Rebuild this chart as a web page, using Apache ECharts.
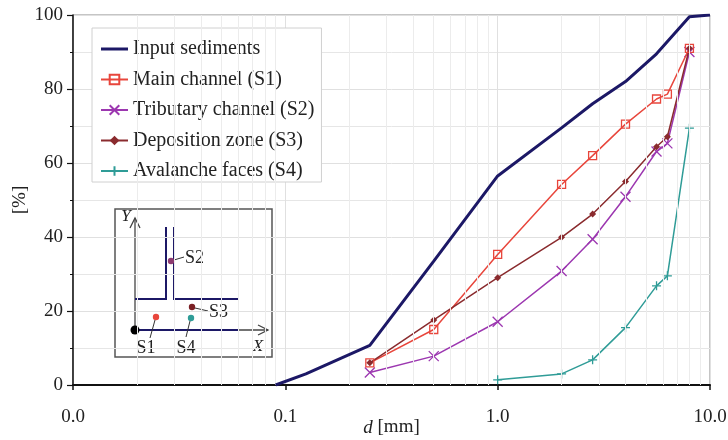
<!DOCTYPE html>
<html><head><meta charset="utf-8">
<script src="https://cdn.jsdelivr.net/npm/echarts@6/dist/echarts.min.js"></script>
<style>html,body{margin:0;padding:0;background:#fff}#c{width:728px;height:440px}</style>
</head><body><div id="c"></div>
<script>
// ---- data ----
const seriesNames = ['Input sediments','Main channel (S1)','Tributary channel (S2)','Deposition zone (S3)','Avalanche faces (S4)'];
const inputD = [0.09, 0.125, 0.25, 0.5, 1, 2, 2.8, 4, 5.6, 8, 10];
const inputP = [0, 3, 10.7, 33.5, 56.5, 69.5, 76, 82, 89.5, 99.5, 100];
const sieveD = [0.25, 0.5, 1, 2, 2.8, 4, 5.6, 6.3, 8];
const mainP = [6, 15, 35.3, 54.2, 62, 70.5, 77.3, 78.6, 91];
const tribP = [3.4, 7.8, 17.1, 30.8, 39.4, 50.9, 63.1, 65.3, 90];
const depoP = [6, 17.6, 29, 39.9, 46.2, 55, 64.4, 67.1, 91];
const avalD = [1, 2, 2.8, 4, 5.6, 6.3, 8];
const avalP = [1.4, 3, 6.8, 15.5, 26.8, 29.5, 69.4];
const xTicks = [0.01, 0.1, 1, 10];
const xMinor = [0.02,0.03,0.04,0.05,0.06,0.07,0.08,0.09,0.2,0.3,0.4,0.5,0.6,0.7,0.8,0.9,2,3,4,5,6,7,8,9];

const zip = (a, b) => a.map((v, i) => [v, b[i]]);
const FONT = 'Liberation Serif';
const C = {navy:'#1c1866', red:'#e8463c', purple:'#9c37b0', maroon:'#8a2b2e', teal:'#2f9c97'};
const grid = {left:73, right:18, top:15, bottom:55};

const chart = echarts.init(document.getElementById('c'), null, {renderer:'canvas'});
const legendData = seriesNames.map((n, i) => i === 0 ? {name:n, icon:'path://M0,0L27,0L27,3L0,3Z'} : {name:n});
const option = {
  animation:false,
  textStyle:{fontFamily:FONT},
  grid:{left:grid.left, right:grid.right, top:grid.top, bottom:grid.bottom, containLabel:false, outerBoundsMode:'none',
        show:true, borderColor:'#8a8a8a', borderWidth:1},
  legend:{
    data:legendData, orient:'vertical', left:92, top:28,
    backgroundColor:'#fff', borderColor:'#d0d0d0', borderWidth:1,
    padding:[11,7,1,8], itemWidth:27, itemHeight:12, itemGap:10.5,
    textStyle:{fontFamily:FONT, fontSize:20, color:'#222', lineHeight:20}
  },
  xAxis:{
    type:'log', logBase:10, min:0.01, max:10,
    name:'{i|d} [mm]', nameLocation:'middle', nameGap:33, nameMoveOverlap:false,
    nameTextStyle:{fontFamily:FONT, fontSize:19, color:'#222', rich:{i:{fontStyle:'italic', fontFamily:FONT, fontSize:19, color:'#222'}}},
    axisLine:{show:true, lineStyle:{color:'#111', width:2}},
    axisTick:{show:true, length:5, lineStyle:{color:'#111', width:1.5}},
    axisLabel:{fontFamily:FONT, fontSize:19, color:'#222', margin:23, formatter:v => xTicks.some(t => Math.abs(t - v) < 1e-9) ? v.toFixed(1) : ''},
    splitLine:{show:true, lineStyle:{color:'#e0e0e0', width:1}}
  },
  yAxis:{
    type:'value', min:0, max:100, interval:20,
    name:'[%]', nameLocation:'middle', nameGap:43, nameRotate:90, nameMoveOverlap:false,
    nameTextStyle:{fontFamily:FONT, fontSize:19, color:'#222'},
    axisLine:{show:true, lineStyle:{color:'#111', width:1.5}},
    axisTick:{show:true, length:6, lineStyle:{color:'#111', width:1.2}},
    minorTick:{show:true, splitNumber:2, length:3, lineStyle:{color:'#111', width:1}},
    minorSplitLine:{show:true, lineStyle:{color:'#e6e6e6', width:1}},
    axisLabel:{fontFamily:FONT, fontSize:19, color:'#222', margin:10},
    splitLine:{show:true, lineStyle:{color:'#e0e0e0', width:1}}
  },
  series:[
    {name:'_minor', type:'line', data:[], silent:true, z:1,
     markLine:{silent:true, symbol:'none', label:{show:false}, animation:false,
       lineStyle:{color:'#ececec', width:1, type:'solid'},
       data:xMinor.map(v => ({xAxis:v}))}},
    {name:seriesNames[0], type:'line', data:zip(inputD, inputP), symbol:'none',
     lineStyle:{color:C.navy, width:3}, itemStyle:{color:C.navy}, z:5},
    {name:seriesNames[1], type:'line', data:zip(sieveD, mainP), symbol:'rect', symbolSize:8,
     lineStyle:{color:C.red, width:1.5}, itemStyle:{color:'rgba(0,0,0,0)', borderColor:C.red, borderWidth:1.3}, z:4},
    {name:seriesNames[2], type:'line', data:zip(sieveD, tribP), symbol:'path://M0,0L10,10M10,0L0,10', symbolSize:10,
     lineStyle:{color:C.purple, width:1.5}, itemStyle:{color:C.purple, borderColor:C.purple, borderWidth:1.3}, z:3},
    {name:seriesNames[3], type:'line', data:zip(sieveD, depoP), symbol:'diamond', symbolSize:7,
     lineStyle:{color:C.maroon, width:1.5}, itemStyle:{color:C.maroon, borderColor:C.maroon, borderWidth:0}, z:4},
    {name:seriesNames[4], type:'line', data:zip(avalD, avalP), symbol:'path://M5,0L5,10M0,5L10,5', symbolSize:9,
     lineStyle:{color:C.teal, width:1.5}, itemStyle:{color:C.teal, borderColor:C.teal, borderWidth:1.3}, z:3}
  ],
  graphic:[{
    type:'group', left:0, top:0, z:100, bounding:'raw',
    children:[
      {type:'rect', shape:{x:115, y:209, width:157, height:148}, style:{fill:'#fff', stroke:'#555', lineWidth:1.5}},
      {type:'polyline', shape:{points:[[135,330],[135,218]]}, style:{stroke:'#444', lineWidth:1.3, fill:null}},
      {type:'polyline', shape:{points:[[130,228],[135,218],[140,228]]}, style:{stroke:'#444', lineWidth:1.3, fill:null}},
      {type:'polyline', shape:{points:[[135,330],[268,330]]}, style:{stroke:'#444', lineWidth:1.3, fill:null}},
      {type:'polyline', shape:{points:[[258,325],[268,330],[258,335]]}, style:{stroke:'#444', lineWidth:1.3, fill:null}},
      {type:'polyline', shape:{points:[[135,330],[238,330]]}, style:{stroke:C.navy, lineWidth:2, fill:null}},
      {type:'polyline', shape:{points:[[135,299],[166,299],[166,227]]}, style:{stroke:C.navy, lineWidth:2, fill:null}},
      {type:'polyline', shape:{points:[[174,227],[174,299],[238,299]]}, style:{stroke:C.navy, lineWidth:2, fill:null}},
      {type:'circle', shape:{cx:135, cy:330, r:4.5}, style:{fill:'#000'}},
      {type:'circle', shape:{cx:156, cy:317, r:3.2}, style:{fill:'#e8463c'}},
      {type:'circle', shape:{cx:171, cy:261, r:3.2}, style:{fill:'#8c3a70'}},
      {type:'circle', shape:{cx:192, cy:307, r:3.2}, style:{fill:'#7a1f24'}},
      {type:'circle', shape:{cx:191, cy:318, r:3.2}, style:{fill:'#2f9c97'}},
      {type:'polyline', shape:{points:[[174,260],[184,257]]}, style:{stroke:'#333', lineWidth:1, fill:null}},
      {type:'polyline', shape:{points:[[195,308],[208,311]]}, style:{stroke:'#333', lineWidth:1, fill:null}},
      {type:'polyline', shape:{points:[[155,320],[150,338]]}, style:{stroke:'#333', lineWidth:1, fill:null}},
      {type:'polyline', shape:{points:[[190,321],[186,337]]}, style:{stroke:'#333', lineWidth:1, fill:null}},
      {type:'text', style:{text:'S2', x:185, y:258, fill:'#222', font:'18px "Liberation Serif"', textVerticalAlign:'middle', verticalAlign:'middle'}},
      {type:'text', style:{text:'S3', x:209, y:312, fill:'#222', font:'18px "Liberation Serif"', textVerticalAlign:'middle', verticalAlign:'middle'}},
      {type:'text', style:{text:'S1', x:146, y:348, fill:'#222', font:'18px "Liberation Serif"', align:'center', textAlign:'center', verticalAlign:'middle', textVerticalAlign:'middle'}},
      {type:'text', style:{text:'S4', x:186, y:348, fill:'#222', font:'18px "Liberation Serif"', align:'center', textAlign:'center', verticalAlign:'middle', textVerticalAlign:'middle'}},
      {type:'text', style:{text:'Y', x:126, y:217, fill:'#222', font:'italic 17px "Liberation Serif"', align:'center', textAlign:'center', verticalAlign:'middle', textVerticalAlign:'middle'}},
      {type:'text', style:{text:'X', x:258, y:347, fill:'#222', font:'italic 17px "Liberation Serif"', align:'center', textAlign:'center', verticalAlign:'middle', textVerticalAlign:'middle'}}
    ]
  }]
};
chart.setOption(option);
</script>
</body></html>
